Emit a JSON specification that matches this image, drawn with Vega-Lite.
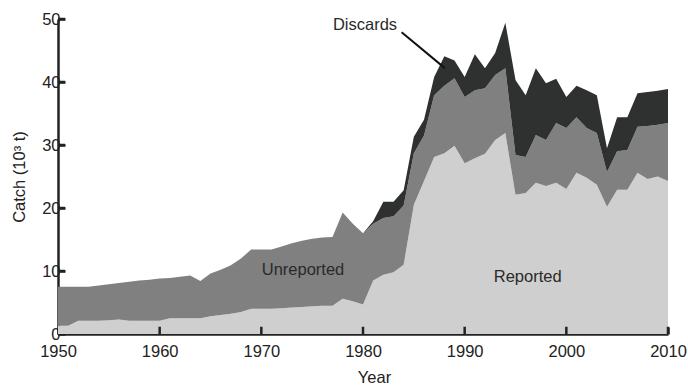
{
  "$schema": "https://vega.github.io/schema/vega-lite/v6.json",
  "width": 610,
  "height": 315,
  "autosize": "none",
  "padding": {"left": 58, "top": 19, "right": 20, "bottom": 54},
  "background": "white",
  "config": {
    "view": {"stroke": null},
    "font": "Liberation Sans",
    "axis": {
      "grid": false,
      "zindex": 2,
      "domainColor": "#222222",
      "domainWidth": 2.5,
      "tickColor": "#222222",
      "tickWidth": 2.5,
      "tickSize": -7,
      "labelFlush": false,
      "labelFont": "Liberation Sans",
      "labelFontSize": 16.5,
      "labelColor": "#222222",
      "titleFont": "Liberation Sans",
      "titleFontSize": 16.5,
      "titleFontWeight": "normal",
      "titleColor": "#222222"
    }
  },
  "layer": [
    {
      "data": {
        "values": [
          {"year": 1950, "Reported": 1.3, "Unreported": 6.2, "Discards": 0},
          {"year": 1951, "Reported": 1.3, "Unreported": 6.2, "Discards": 0},
          {"year": 1952, "Reported": 2.1, "Unreported": 5.4, "Discards": 0},
          {"year": 1953, "Reported": 2.1, "Unreported": 5.4, "Discards": 0},
          {"year": 1954, "Reported": 2.1, "Unreported": 5.6, "Discards": 0},
          {"year": 1955, "Reported": 2.2, "Unreported": 5.7, "Discards": 0},
          {"year": 1956, "Reported": 2.3, "Unreported": 5.8, "Discards": 0},
          {"year": 1957, "Reported": 2.1, "Unreported": 6.2, "Discards": 0},
          {"year": 1958, "Reported": 2.1, "Unreported": 6.4, "Discards": 0},
          {"year": 1959, "Reported": 2.1, "Unreported": 6.5, "Discards": 0},
          {"year": 1960, "Reported": 2.1, "Unreported": 6.7, "Discards": 0},
          {"year": 1961, "Reported": 2.5, "Unreported": 6.4, "Discards": 0},
          {"year": 1962, "Reported": 2.5, "Unreported": 6.6, "Discards": 0},
          {"year": 1963, "Reported": 2.5, "Unreported": 6.8, "Discards": 0},
          {"year": 1964, "Reported": 2.5, "Unreported": 5.9, "Discards": 0},
          {"year": 1965, "Reported": 2.8, "Unreported": 6.8, "Discards": 0},
          {"year": 1966, "Reported": 3.0, "Unreported": 7.2, "Discards": 0},
          {"year": 1967, "Reported": 3.2, "Unreported": 7.7, "Discards": 0},
          {"year": 1968, "Reported": 3.5, "Unreported": 8.5, "Discards": 0},
          {"year": 1969, "Reported": 4.0, "Unreported": 9.4, "Discards": 0},
          {"year": 1970, "Reported": 4.0, "Unreported": 9.4, "Discards": 0},
          {"year": 1971, "Reported": 4.0, "Unreported": 9.4, "Discards": 0},
          {"year": 1972, "Reported": 4.1, "Unreported": 9.8, "Discards": 0},
          {"year": 1973, "Reported": 4.2, "Unreported": 10.2, "Discards": 0},
          {"year": 1974, "Reported": 4.3, "Unreported": 10.5, "Discards": 0},
          {"year": 1975, "Reported": 4.4, "Unreported": 10.7, "Discards": 0},
          {"year": 1976, "Reported": 4.5, "Unreported": 10.8, "Discards": 0},
          {"year": 1977, "Reported": 4.5, "Unreported": 10.9, "Discards": 0},
          {"year": 1978, "Reported": 5.6, "Unreported": 13.7, "Discards": 0},
          {"year": 1979, "Reported": 5.2, "Unreported": 12.3, "Discards": 0},
          {"year": 1980, "Reported": 4.7, "Unreported": 11.3, "Discards": 0},
          {"year": 1981, "Reported": 8.5, "Unreported": 9.0, "Discards": 0.4},
          {"year": 1982, "Reported": 9.4, "Unreported": 9.0, "Discards": 2.6},
          {"year": 1983, "Reported": 9.8, "Unreported": 8.9, "Discards": 2.3},
          {"year": 1984, "Reported": 11.0, "Unreported": 9.4, "Discards": 2.4},
          {"year": 1985, "Reported": 20.5, "Unreported": 8.2, "Discards": 2.6},
          {"year": 1986, "Reported": 24.3, "Unreported": 7.2, "Discards": 2.5},
          {"year": 1987, "Reported": 28.1, "Unreported": 9.8, "Discards": 2.9},
          {"year": 1988, "Reported": 28.7, "Unreported": 10.7, "Discards": 4.7},
          {"year": 1989, "Reported": 29.9, "Unreported": 10.7, "Discards": 2.8},
          {"year": 1990, "Reported": 27.1, "Unreported": 10.5, "Discards": 3.2},
          {"year": 1991, "Reported": 27.9, "Unreported": 10.8, "Discards": 5.7},
          {"year": 1992, "Reported": 28.6, "Unreported": 10.4, "Discards": 3.2},
          {"year": 1993, "Reported": 30.8, "Unreported": 10.3, "Discards": 3.5},
          {"year": 1994, "Reported": 31.9, "Unreported": 10.3, "Discards": 7.2},
          {"year": 1995, "Reported": 22.1, "Unreported": 6.3, "Discards": 11.9},
          {"year": 1996, "Reported": 22.4, "Unreported": 5.7, "Discards": 9.8},
          {"year": 1997, "Reported": 24.0, "Unreported": 7.6, "Discards": 10.6},
          {"year": 1998, "Reported": 23.5, "Unreported": 7.3, "Discards": 9.0},
          {"year": 1999, "Reported": 24.0, "Unreported": 9.5, "Discards": 7.0},
          {"year": 2000, "Reported": 23.0, "Unreported": 9.7, "Discards": 4.9},
          {"year": 2001, "Reported": 25.6, "Unreported": 8.8, "Discards": 5.0},
          {"year": 2002, "Reported": 24.8, "Unreported": 7.9, "Discards": 6.0},
          {"year": 2003, "Reported": 23.7, "Unreported": 8.2, "Discards": 6.0},
          {"year": 2004, "Reported": 20.2, "Unreported": 5.5, "Discards": 3.8},
          {"year": 2005, "Reported": 22.9, "Unreported": 6.1, "Discards": 5.4},
          {"year": 2006, "Reported": 22.9, "Unreported": 6.3, "Discards": 5.2},
          {"year": 2007, "Reported": 25.6, "Unreported": 7.3, "Discards": 5.3},
          {"year": 2008, "Reported": 24.6, "Unreported": 8.4, "Discards": 5.4},
          {"year": 2009, "Reported": 25.0, "Unreported": 8.2, "Discards": 5.4},
          {"year": 2010, "Reported": 24.3, "Unreported": 9.2, "Discards": 5.4}
        ]
      },
      "transform": [
        {"fold": ["Reported", "Unreported", "Discards"], "as": ["sector", "catch"]},
        {"calculate": "indexof(['Reported', 'Unreported', 'Discards'], datum.sector)", "as": "stack_rank"}
      ],
      "mark": {"type": "area", "interpolate": "linear"},
      "encoding": {
        "x": {
          "field": "year",
          "type": "quantitative",
          "scale": {"domain": [1950, 2010], "nice": false, "zero": false},
          "axis": {
            "title": "Year",
            "values": [1950, 1960, 1970, 1980, 1990, 2000, 2010],
            "format": "d",
            "labelPadding": 16,
            "titlePadding": 10,
            "titleX": 316
          }
        },
        "y": {
          "field": "catch",
          "type": "quantitative",
          "stack": "zero",
          "scale": {"domain": [0, 50], "nice": false},
          "axis": {
            "title": "Catch (10³ t)",
            "values": [0, 10, 20, 30, 40, 50],
            "labelPadding": 5,
            "titlePadding": 14
          }
        },
        "order": {"field": "stack_rank", "type": "quantitative", "sort": "ascending"},
        "color": {
          "field": "sector",
          "type": "nominal",
          "scale": {
            "domain": ["Reported", "Unreported", "Discards"],
            "range": ["#cfcfcf", "#808080", "#2f3130"]
          },
          "legend": null
        }
      }
    },
    {
      "description": "Inward x-axis tick marks, drawn above the areas",
      "data": {"values": [{"tick": 1960}, {"tick": 1970}, {"tick": 1980}, {"tick": 1990}, {"tick": 2000}, {"tick": 2010}]},
      "mark": {"type": "rule", "color": "#222222", "strokeWidth": 2.5},
      "encoding": {
        "x": {"field": "tick", "type": "quantitative"},
        "y": {"datum": 0},
        "y2": {"datum": 1.15}
      }
    },
    {
      "description": "Inward y-axis tick marks",
      "data": {"values": [{"tick": 10}, {"tick": 20}, {"tick": 30}, {"tick": 40}, {"tick": 50}]},
      "mark": {"type": "rule", "color": "#222222", "strokeWidth": 2.5},
      "encoding": {
        "y": {"field": "tick", "type": "quantitative"},
        "x": {"datum": 1950},
        "x2": {"datum": 1950.7}
      }
    },
    {
      "data": {
        "values": [
          {"label": "Unreported", "year": 1974.1, "catch": 10.2},
          {"label": "Reported", "year": 1996.2, "catch": 9.0},
          {"label": "Discards", "year": 1980.2, "catch": 49.0}
        ]
      },
      "mark": {"type": "text", "font": "Liberation Sans", "fontSize": 16.5, "color": "#2a2a2a", "baseline": "middle", "align": "center"},
      "encoding": {
        "x": {"field": "year", "type": "quantitative"},
        "y": {"field": "catch", "type": "quantitative"},
        "text": {"field": "label"}
      }
    },
    {
      "data": {
        "values": [
          {"year": 1983.8, "catch": 47.9, "year_end": 1988.05, "catch_end": 42.2}
        ]
      },
      "mark": {"type": "rule", "color": "#111111", "strokeWidth": 2},
      "encoding": {
        "x": {"field": "year", "type": "quantitative"},
        "y": {"field": "catch", "type": "quantitative"},
        "x2": {"field": "year_end"},
        "y2": {"field": "catch_end"}
      }
    }
  ]
}
